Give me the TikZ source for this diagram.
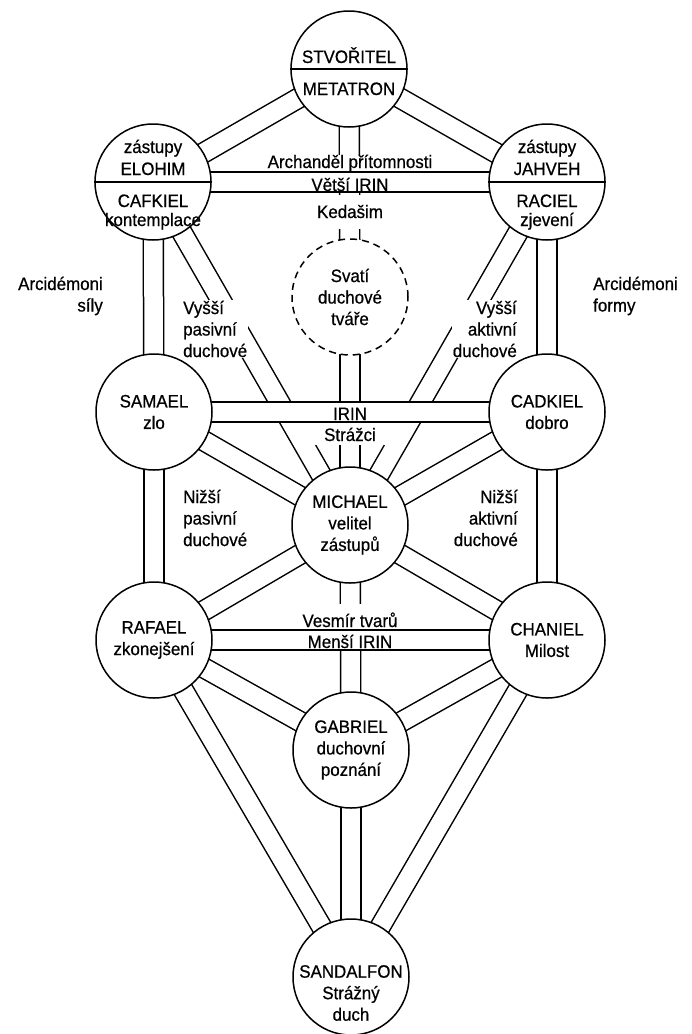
\documentclass[tikz,border=0pt]{standalone}
\usepackage{fontspec}
\setmainfont{Liberation Sans}[FakeStretch=0.94, FakeBold=0.6]
\pgfdeclarelayer{bgl}
\pgfdeclarelayer{lo}
\pgfdeclarelayer{mid}
\pgfdeclarelayer{hi}
\pgfsetlayers{bgl,lo,mid,hi,main}
\begin{document}
\begin{tikzpicture}[x=1pt,y=-1pt,
  txt/.style={font=\fontsize{18}{21.5}\selectfont, inner sep=0pt, align=center},
  lab/.style={txt, inner sep=1pt},
  gapbox/.style={txt, fill=white, inner xsep=2pt},
  band/.style={line width=1.5pt, double=white, double distance=18.5pt},
  circ/.style={circle, draw, line width=1.5pt, fill=white, minimum size=116pt, inner sep=0pt, txt},
  dcirc/.style={circ, dash pattern=on 7pt off 5pt},
  divider/.style={line width=1.5pt}]
\begin{pgfonlayer}{bgl}
\fill[white] (0,0) rectangle (692,1034);
\end{pgfonlayer}
\useasboundingbox (0,0) rectangle (692,1034);

% circles
\node[circ] (stv) at (349,69) {};
\node[circ] (eloh) at (153,182) {};
\node[circ] (jahv) at (547,182) {};
\node[dcirc] (daath) at (350,297) {Svatí\\duchové\\tváře};
\node[circ] (sama) at (154,412) {SAMAEL\\zlo};
\node[circ] (cadk) at (547,412) {CADKIEL\\dobro};
\node[circ] (mich) at (350,525) {MICHAEL\\velitel\\zástupů};
\node[circ] (rafa) at (154,640) {RAFAEL\\zkonejšení};
\node[circ] (chan) at (547,640) {CHANIEL\\Milost};
\node[circ] (gabr) at (351,750) {GABRIEL\\duchovní\\poznání};
\node[circ] (sand) at (351,977) {};

% dividers
\draw[divider] (stv.west) -- (stv.east);
\draw[divider] (eloh.west) -- (eloh.east);
\draw[divider] (jahv.west) -- (jahv.east);

% split-circle texts
\node[txt, anchor=base] (stvA) at (349,63) {STVOŘITEL};
\node[txt, anchor=base] (stvB) at (349,95) {METATRON};
\node[txt, anchor=base] (elA) at (153,153) {zástupy};
\node[txt, anchor=base] (elB) at (153,175) {ELOHIM};
\node[txt, anchor=base] (elC) at (153,207) {CAFKIEL};
\node[txt, anchor=base] (elD) at (153,226) {kontemplace};
\node[txt, anchor=base] (jaA) at (547,153) {zástupy};
\node[txt, anchor=base] (jaB) at (547,175) {JAHVEH};
\node[txt, anchor=base] (jaC) at (547,207) {RACIEL};
\node[txt, anchor=base] (jaD) at (547,226) {zjevení};
\node[txt] (sandT) at (351,993) {SANDALFON\\Strážný\\duch};

% paths (lower layer)
\begin{pgfonlayer}{lo}
\draw[band] (stv.center) -- (eloh.center);
\draw[band] (stv.center) -- (jahv.center);
\draw[band] (stv.center) -- (daath.center);
\draw[band] (daath.center) -- (mich.center);
\draw[band] (eloh.center) -- (sama.center);
\draw[band] (jahv.center) -- (cadk.center);
\draw[band] (eloh.center) -- (mich.center);
\draw[band] (jahv.center) -- (mich.center);
\draw[band] (sama.center) -- (mich.center);
\draw[band] (cadk.center) -- (mich.center);
\draw[band] (sama.center) -- (rafa.center);
\draw[band] (cadk.center) -- (chan.center);
\draw[band] (mich.center) -- (rafa.center);
\draw[band] (mich.center) -- (chan.center);
\draw[band] (mich.center) -- (gabr.center);
\draw[band] (rafa.center) -- (gabr.center);
\draw[band] (chan.center) -- (gabr.center);
\draw[band] (rafa.center) -- (sand.center);
\draw[band] (chan.center) -- (sand.center);
\draw[band] (gabr.center) -- (sand.center);
\end{pgfonlayer}

% labels that interrupt vertical paths
\begin{pgfonlayer}{mid}
\node[gapbox, anchor=base] (archT) at (350,168) {Archanděl přítomnosti};
\node[gapbox, anchor=base, minimum height=34pt] (kedT) at (350,218) {Kedašim};
\node[gapbox, anchor=base, minimum height=22pt, minimum width=100pt] (strT) at (350,441) {Strážci};
\node[gapbox, anchor=base, minimum height=31pt] (vesT) at (350,627) {Vesmír tvarů};
\end{pgfonlayer}

% horizontal paths on top
\begin{pgfonlayer}{hi}
\draw[band] (eloh.center) -- (jahv.center);
\draw[band] (sama.center) -- (cadk.center);
\draw[band] (rafa.center) -- (chan.center);
\end{pgfonlayer}

% texts inside the horizontal paths
\node[txt, anchor=base] (vetT) at (350,191) {Větší IRIN};
\node[txt, anchor=base] (irinT) at (350,420) {IRIN};
\node[txt, anchor=base] (menT) at (350,648) {Menší IRIN};

% side labels
\node[lab, anchor=east, align=right] (arcL) at (104,296) {Arcidémoni\\síly};
\node[lab, anchor=west, align=left] (arcR) at (592,296) {Arcidémoni\\formy};
\node[lab, fill=white, anchor=west, align=left] (vysL) at (182,329) {Vyšší\\pasivní\\duchové};
\node[lab, fill=white, anchor=east, align=right] (vysR) at (518,329) {Vyšší\\aktivní\\duchové};
\node[lab, anchor=west, align=left] (nizL) at (182,518) {Nižší\\pasivní\\duchové};
\node[lab, anchor=east, align=right] (nizR) at (519,518) {Nižší\\aktivní\\duchové};
\end{tikzpicture}
\end{document}
